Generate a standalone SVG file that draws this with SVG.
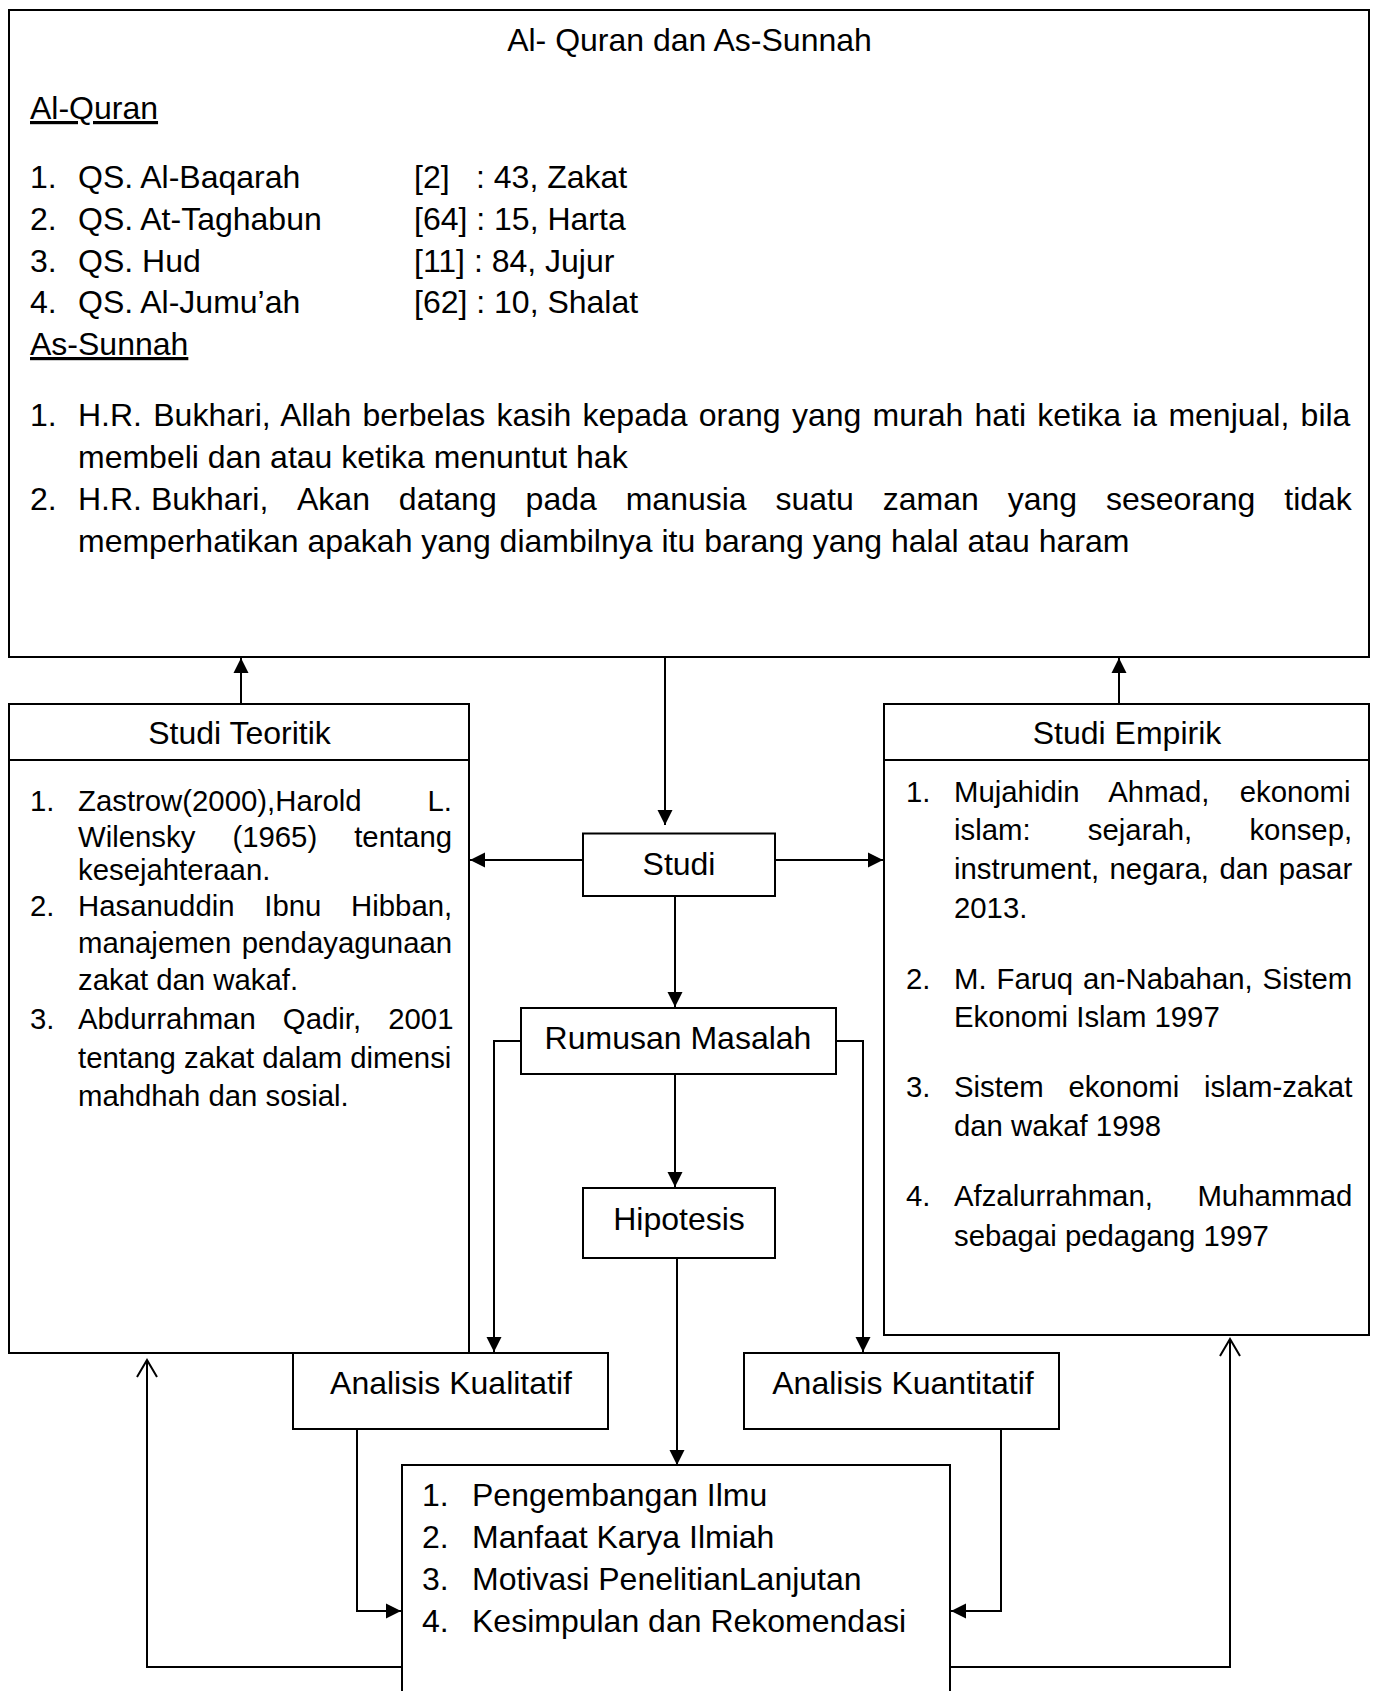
<svg xmlns="http://www.w3.org/2000/svg" width="1378" height="1691" viewBox="0 0 1378 1691">
<style>
.box{fill:#fff;stroke:#000;stroke-width:2}
.ln{fill:none;stroke:#000;stroke-width:2}
.conn{fill:none;stroke:#000;stroke-width:2}
text{font-family:"Liberation Sans",Arial,sans-serif;font-size:32px;fill:#000}
.s{font-size:29.33px}
.c{text-anchor:middle}
.e{text-anchor:end}
.u{text-decoration:underline}
</style>
<defs>
<marker id="arr" viewBox="0 0 16 16" refX="15" refY="8" markerWidth="16" markerHeight="16" markerUnits="userSpaceOnUse" orient="auto"><path d="M0,0.5 L15,8 L0,15.5 Z" fill="#000"/></marker>
<marker id="open" viewBox="-2 -2 22 24" refX="17" refY="10" markerWidth="22" markerHeight="24" markerUnits="userSpaceOnUse" orient="auto"><path d="M0,0 L17,10 L0,20" fill="none" stroke="#000" stroke-width="2"/></marker>
</defs>
<rect width="1378" height="1691" fill="#fff"/>

<g id="connectors">
<path class="conn" d="M665,657 V825" marker-end="url(#arr)"/>
<path class="conn" d="M583,860 H470" marker-end="url(#arr)"/>
<path class="conn" d="M775,860 H883" marker-end="url(#arr)"/>
<path class="conn" d="M675,894 V1007" marker-end="url(#arr)"/>
<path class="conn" d="M675,1074 V1187" marker-end="url(#arr)"/>
<path class="conn" d="M677,1258 V1465" marker-end="url(#arr)"/>
<path class="conn" d="M521,1041 H494 V1352" marker-end="url(#arr)"/>
<path class="conn" d="M836,1041 H863 V1352" marker-end="url(#arr)"/>
<path class="conn" d="M241,704 V658" marker-end="url(#arr)"/>
<path class="conn" d="M1119,704 V658" marker-end="url(#arr)"/>
<path class="conn" d="M357,1429 V1611 H401" marker-end="url(#arr)"/>
<path class="conn" d="M1001,1429 V1611 H951" marker-end="url(#arr)"/>
<path class="conn" d="M402,1667 H147 V1360" marker-end="url(#open)"/>
<path class="conn" d="M950,1667 H1230 V1339" marker-end="url(#open)"/>
</g>

<g id="sumber">
<rect class="box" x="9" y="10" width="1360" height="647"/>
<text class="c" x="689.5" y="51">Al- Quran dan As-Sunnah</text>
<text class="u" x="30" y="119">Al-Quran</text>
<text x="30" y="188">1.</text><text x="78" y="188">QS. Al-Baqarah</text><text x="414" y="188">[2]</text><text x="476" y="188">: 43, Zakat</text>
<text x="30" y="230">2.</text><text x="78" y="230">QS. At-Taghabun</text><text x="414" y="230">[64] : 15, Harta</text>
<text x="30" y="272">3.</text><text x="78" y="272">QS. Hud</text><text x="414" y="272">[11] : 84, Jujur</text>
<text x="30" y="313">4.</text><text x="78" y="313">QS. Al-Jumu’ah</text><text x="414" y="313">[62] : 10, Shalat</text>
<text class="u" x="30" y="355">As-Sunnah</text>
<text x="30" y="426">1.</text>
<text x="78" y="426" word-spacing="2.37">H.R. Bukhari, Allah berbelas kasih kepada orang yang murah hati ketika ia menjual, bila</text>
<text x="78" y="468">membeli dan atau ketika menuntut hak</text>
<text x="30" y="510">2.</text>
<text x="78" y="510">H.R. Bukhari,</text>
<text x="297" y="510" word-spacing="20">Akan datang pada manusia suatu zaman yang seseorang tidak</text>
<text x="78" y="552">memperhatikan apakah yang diambilnya itu barang yang halal atau haram</text>
</g>

<g id="studi-teoritik">
<rect class="box" x="9" y="704" width="460" height="649"/>
<line class="ln" x1="9" y1="760" x2="469" y2="760"/>
<text class="c" x="239.5" y="744">Studi Teoritik</text>
<text class="s" x="30" y="811">1.</text>
<text class="s" x="78" y="811">Zastrow(2000),Harold</text><text class="s e" x="452" y="811">L.</text>
<text class="s" x="78" y="847" word-spacing="28.9">Wilensky (1965) tentang</text>
<text class="s" x="78" y="880">kesejahteraan.</text>
<text class="s" x="30" y="916">2.</text>
<text class="s" x="78" y="916" word-spacing="21.6">Hasanuddin Ibnu Hibban,</text>
<text class="s" x="78" y="953" word-spacing="2.3">manajemen pendayagunaan</text>
<text class="s" x="78" y="990">zakat dan wakaf.</text>
<text class="s" x="30" y="1029">3.</text>
<text class="s" x="78" y="1029" word-spacing="19">Abdurrahman Qadir, 2001</text>
<text class="s" x="78" y="1068">tentang zakat dalam dimensi</text>
<text class="s" x="78" y="1106">mahdhah dan sosial.</text>
</g>

<g id="studi-empirik">
<rect class="box" x="884" y="704" width="485" height="631"/>
<line class="ln" x1="884" y1="760" x2="1369" y2="760"/>
<text class="c" x="1127" y="744">Studi Empirik</text>
<text class="s" x="906" y="802">1.</text>
<text class="s" x="954" y="802" word-spacing="22.2">Mujahidin Ahmad, ekonomi</text>
<text class="s" x="954" y="840" word-spacing="49.1">islam: sejarah, konsep,</text>
<text class="s" x="954" y="879" word-spacing="2.3">instrument, negara, dan pasar</text>
<text class="s" x="954" y="918">2013.</text>
<text class="s" x="906" y="989">2.</text>
<text class="s" x="954" y="989" word-spacing="1.8">M. Faruq an-Nabahan, Sistem</text>
<text class="s" x="954" y="1027">Ekonomi Islam 1997</text>
<text class="s" x="906" y="1097">3.</text>
<text class="s" x="954" y="1097" word-spacing="16.6">Sistem ekonomi islam-zakat</text>
<text class="s" x="954" y="1136">dan wakaf 1998</text>
<text class="s" x="906" y="1206">4.</text>
<text class="s" x="954" y="1206" word-spacing="36.4">Afzalurrahman, Muhammad</text>
<text class="s" x="954" y="1246">sebagai pedagang 1997</text>
</g>

<g id="studi">
<rect class="box" x="583" y="833.5" width="192" height="62.5"/>
<text class="c" x="679" y="875">Studi</text>
</g>

<g id="rumusan-masalah">
<rect class="box" x="521" y="1008" width="315" height="66"/>
<text class="c" x="678" y="1048.5">Rumusan Masalah</text>
</g>

<g id="hipotesis">
<rect class="box" x="583" y="1188" width="192" height="70"/>
<text class="c" x="679" y="1230">Hipotesis</text>
</g>

<g id="analisis-kualitatif">
<rect class="box" x="293" y="1353" width="315" height="76"/>
<text class="c" x="451" y="1394">Analisis Kualitatif</text>
</g>

<g id="analisis-kuantitatif">
<rect class="box" x="744" y="1353" width="315" height="76"/>
<text class="c" x="903" y="1394">Analisis Kuantitatif</text>
</g>

<g id="hasil">
<rect class="box" x="402" y="1465" width="548" height="260"/>
<text x="422" y="1506">1.</text><text x="472" y="1506">Pengembangan Ilmu</text>
<text x="422" y="1548">2.</text><text x="472" y="1548">Manfaat Karya Ilmiah</text>
<text x="422" y="1590">3.</text><text x="472" y="1590">Motivasi PenelitianLanjutan</text>
<text x="422" y="1632">4.</text><text x="472" y="1632">Kesimpulan dan Rekomendasi</text>
</g>
</svg>
